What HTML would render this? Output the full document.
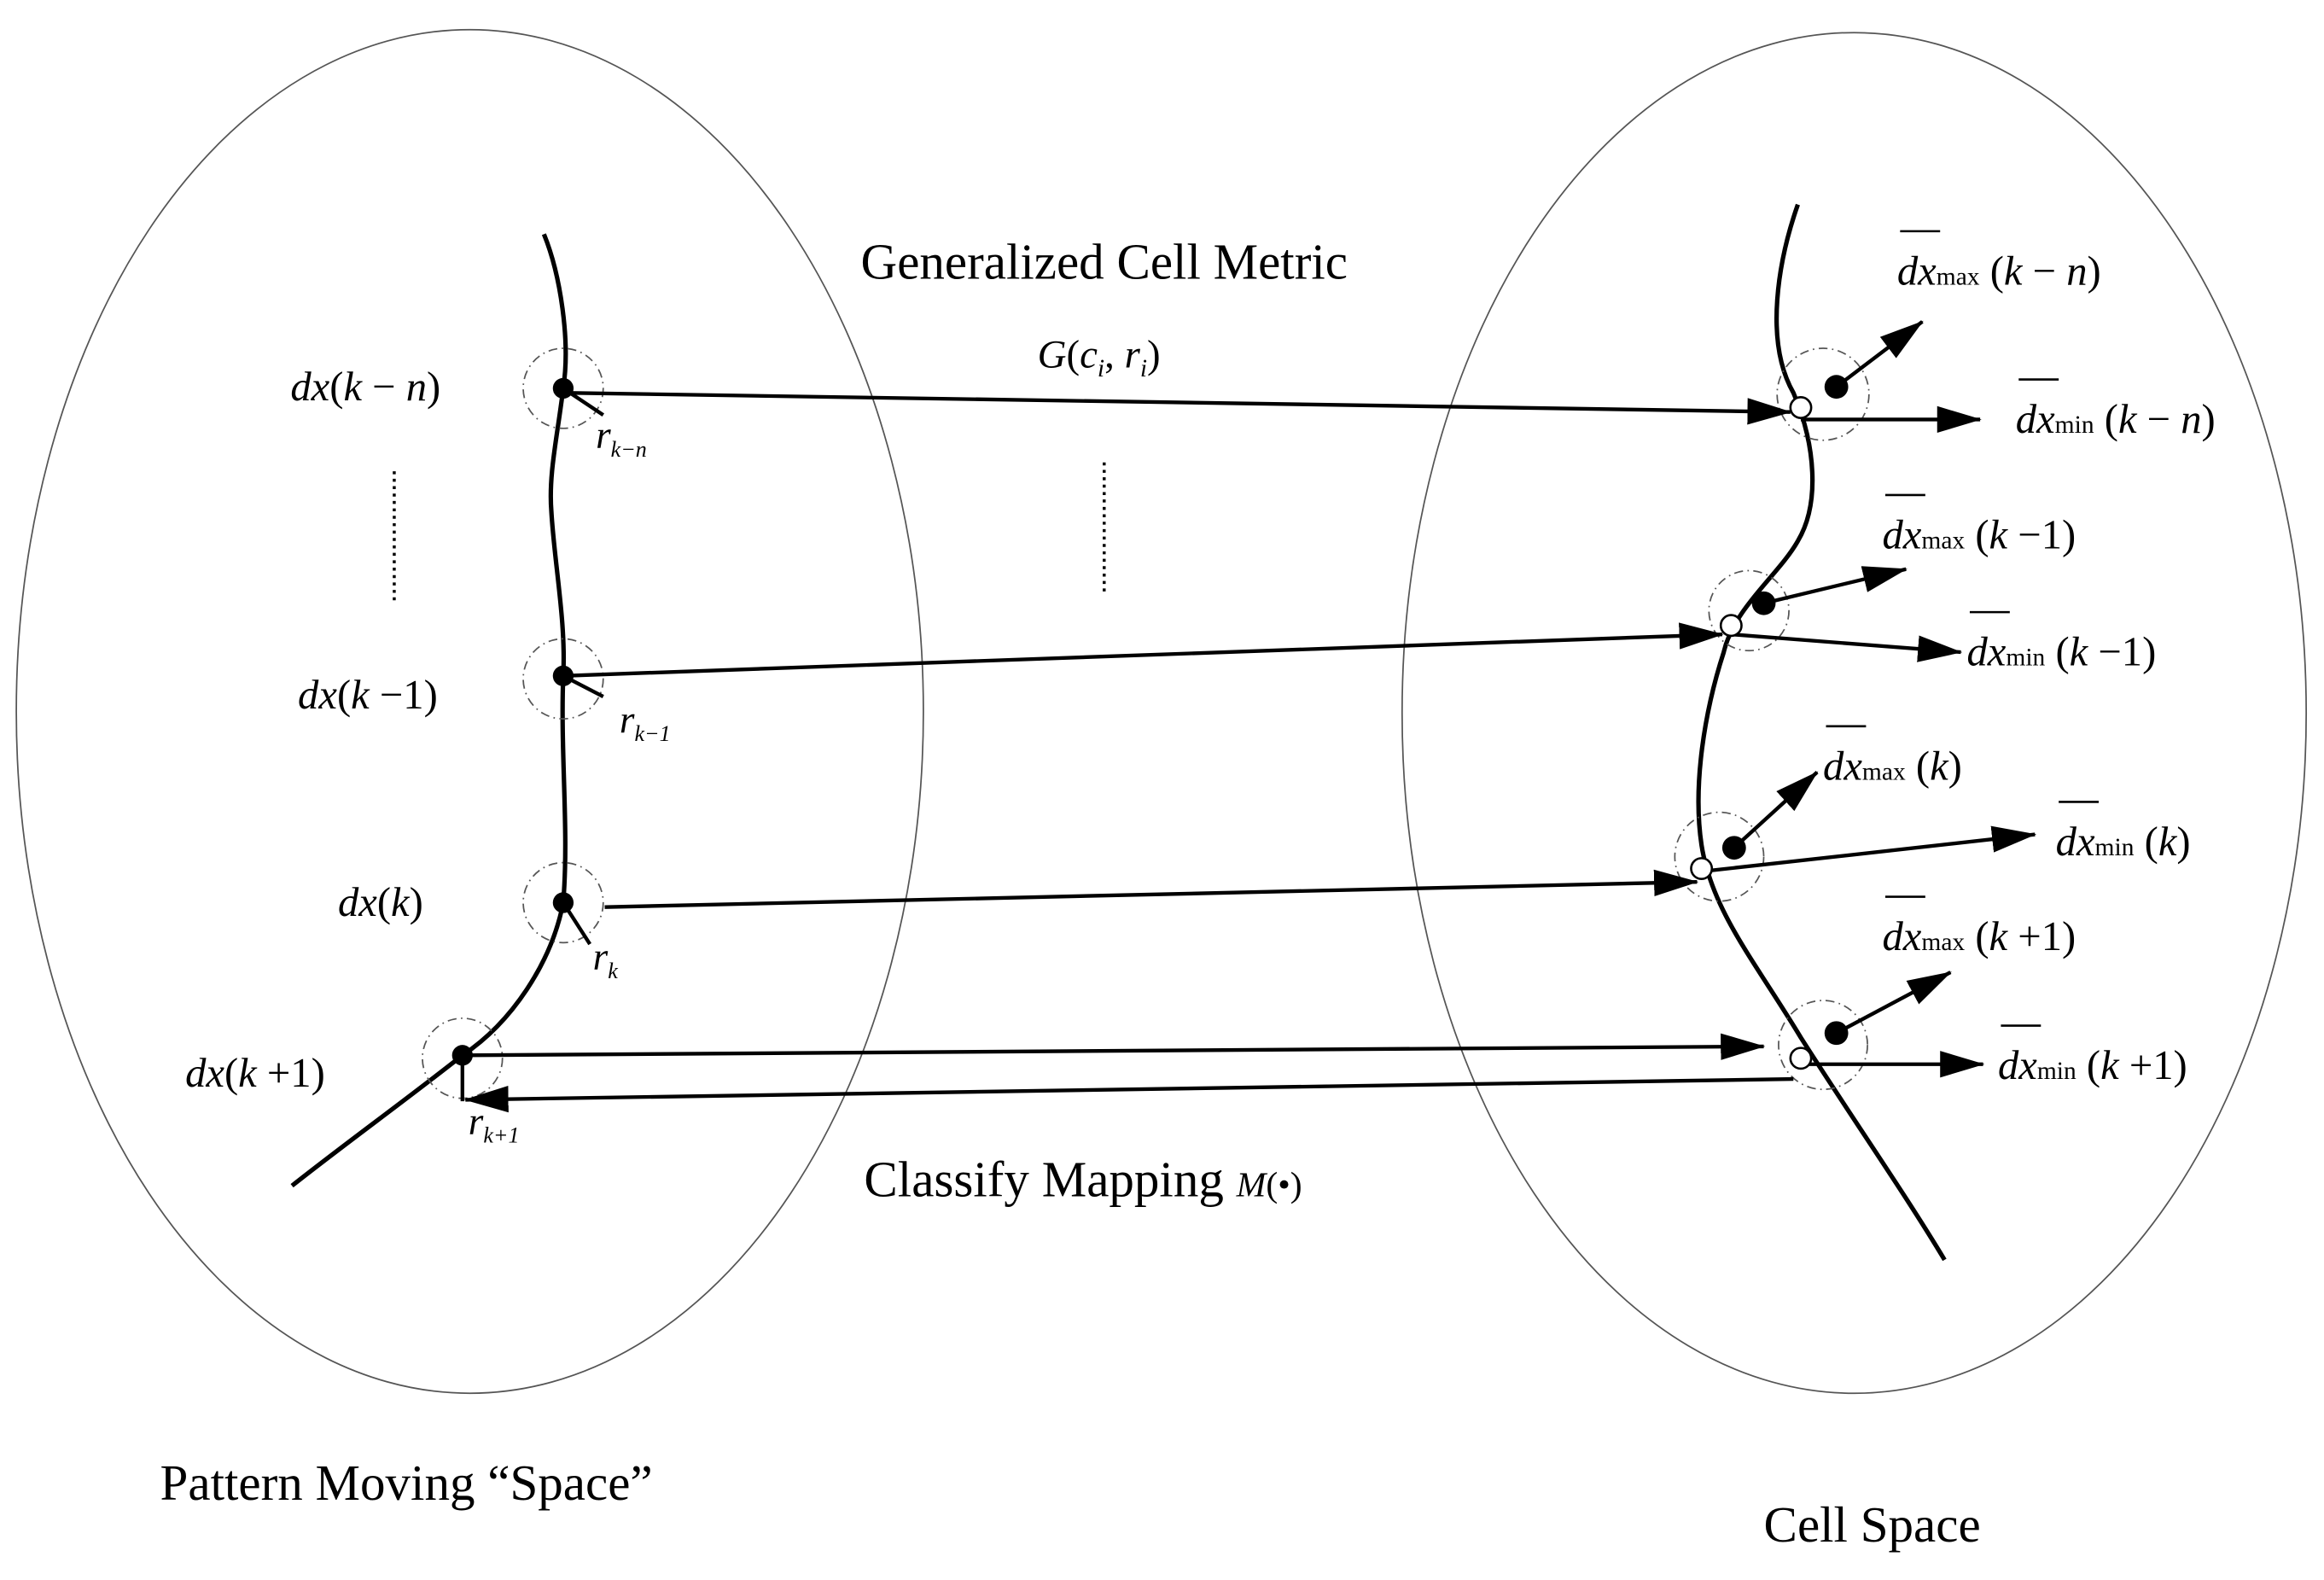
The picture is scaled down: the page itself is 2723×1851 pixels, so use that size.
<!DOCTYPE html>
<html><head><meta charset="utf-8"><style>
html,body{margin:0;padding:0;background:#fff;}
svg{display:block;}
text{font-family:"Liberation Serif",serif;fill:#000;}
.i{font-style:italic;}
</style></head><body>
<svg width="2723" height="1851" viewBox="0 0 1568 1066" preserveAspectRatio="none" xmlns="http://www.w3.org/2000/svg">
<defs>
<marker id="ah" markerWidth="10" markerHeight="8" refX="9" refY="4" orient="auto" markerUnits="userSpaceOnUse" viewBox="0 0 10 8">
</marker>
<marker id="a" viewBox="0 0 30 20" refX="29" refY="10" markerWidth="30" markerHeight="20" orient="auto" markerUnits="userSpaceOnUse"><path d="M0,1 L30,10 L0,19 Z" fill="#000"/></marker>
</defs>
<ellipse cx="317" cy="480" rx="306" ry="460" fill="none" stroke="#555" stroke-width="1"/>
<ellipse cx="1251" cy="481" rx="305" ry="459" fill="none" stroke="#555" stroke-width="1"/>

<!-- left curve -->
<path d="M367,158 C378,185 385,230 380,262 C376,295 370,320 372,345 C374,380 382,420 380,456 C378,510 384,560 380,609 C372,650 345,690 312,712 C270,745 235,770 197,800" fill="none" stroke="#000" stroke-width="3"/>
<g fill="none" stroke="#555" stroke-width="1" stroke-dasharray="6,3,1,3">
<circle cx="380" cy="262" r="27"/><circle cx="380" cy="458" r="27"/><circle cx="380" cy="609" r="27"/><circle cx="312" cy="714" r="27"/>
</g>
<g stroke="#000" stroke-width="2.5">
<line x1="380" y1="262" x2="407" y2="280"/>
<line x1="380" y1="456" x2="407" y2="470"/>
<line x1="380" y1="609" x2="398" y2="637"/>
<line x1="312" y1="712" x2="312" y2="743"/>
</g>
<g fill="#000"><circle cx="380" cy="262" r="7"/><circle cx="380" cy="456" r="7"/><circle cx="380" cy="609" r="7"/><circle cx="312" cy="712" r="7"/></g>

<!-- right curve -->
<path d="M1213,138 C1200,175 1190,230 1210,265 C1225,300 1228,340 1213,365 C1200,388 1170,410 1163,440 C1150,480 1142,530 1148,570 C1155,615 1185,650 1215,700 C1250,755 1285,805 1312,850" fill="none" stroke="#000" stroke-width="3"/>
<g fill="none" stroke="#555" stroke-width="1" stroke-dasharray="6,3,1,3">
<circle cx="1230" cy="266" r="31"/><circle cx="1180" cy="412" r="27"/><circle cx="1160" cy="578" r="30"/><circle cx="1230" cy="705" r="30"/>
</g>

<!-- arrows -->
<g stroke="#000" stroke-width="2.5" fill="none" marker-end="url(#a)">
<line x1="380" y1="265" x2="1208" y2="278"/>
<line x1="380" y1="456" x2="1162" y2="428"/>
<line x1="408" y1="612" x2="1145" y2="595"/>
<line x1="312" y1="712" x2="1190" y2="706"/>
<line x1="1210" y1="728" x2="314" y2="742"/>
<line x1="1239" y1="261" x2="1297" y2="217"/>
<line x1="1190" y1="407" x2="1286" y2="384"/>
<line x1="1170" y1="572" x2="1226" y2="521"/>
<line x1="1239" y1="697" x2="1316" y2="656"/>
<line x1="1215" y1="283" x2="1336" y2="283"/>
<line x1="1168" y1="428" x2="1323" y2="440"/>
<line x1="1148" y1="588" x2="1373" y2="563"/>
<line x1="1215" y1="718" x2="1338" y2="718"/>
</g>
<g fill="#000"><circle cx="1239" cy="261" r="8"/><circle cx="1190" cy="407" r="8"/><circle cx="1170" cy="572" r="8"/><circle cx="1239" cy="697" r="8"/></g>
<g fill="#fff" stroke="#000" stroke-width="1.5"><circle cx="1215" cy="275" r="7"/><circle cx="1168" cy="422" r="7"/><circle cx="1148" cy="586" r="7"/><circle cx="1215" cy="714" r="7"/></g>

<!-- dotted vertical -->
<line x1="266" y1="318" x2="266" y2="405" stroke="#000" stroke-width="2" stroke-dasharray="2,3"/>
<line x1="745" y1="312" x2="745" y2="400" stroke="#000" stroke-width="2" stroke-dasharray="2,3"/>

<!-- texts -->
<text x="745" y="188" font-size="34" text-anchor="middle">Generalized Cell Metric</text>
<text x="700" y="248" font-size="27"><tspan class="i">G</tspan>(<tspan class="i">c</tspan><tspan class="i" font-size="17" dy="6">i</tspan><tspan dy="-6">, </tspan><tspan class="i">r</tspan><tspan class="i" font-size="17" dy="6">i</tspan><tspan dy="-6">)</tspan></text>
<text x="583" y="807" font-size="34">Classify Mapping <tspan class="i" font-size="24">M</tspan><tspan font-size="24">(•)</tspan></text>
<text x="108" y="1012" font-size="34">Pattern Moving “Space”</text>
<text x="1190" y="1040" font-size="34">Cell Space</text>

<g font-size="28">
<text x="196" y="270"><tspan class="i">dx</tspan>(<tspan class="i">k</tspan> − <tspan class="i">n</tspan>)</text>
<text x="201" y="478"><tspan class="i">dx</tspan>(<tspan class="i">k</tspan> −1)</text>
<text x="228" y="618"><tspan class="i">dx</tspan>(<tspan class="i">k</tspan>)</text>
<text x="125" y="733"><tspan class="i">dx</tspan>(<tspan class="i">k</tspan> +1)</text>
</g>
<g font-size="26">
<text x="402" y="302" class="i">r<tspan font-size="15" dy="6">k−n</tspan></text>
<text x="418" y="494" class="i">r<tspan font-size="15" dy="6">k−1</tspan></text>
<text x="400" y="654" class="i">r<tspan font-size="15" dy="6">k</tspan></text>
<text x="316" y="765" class="i">r<tspan font-size="15" dy="6">k+1</tspan></text>
</g>

<g font-size="28">
<text x="1280" y="192"><tspan class="i">dx</tspan><tspan font-size="17">max</tspan> (<tspan class="i">k</tspan> − <tspan class="i">n</tspan>)</text>
<text x="1360" y="292"><tspan class="i">dx</tspan><tspan font-size="17">min</tspan> (<tspan class="i">k</tspan> − <tspan class="i">n</tspan>)</text>
<text x="1270" y="370"><tspan class="i">dx</tspan><tspan font-size="17">max</tspan> (<tspan class="i">k</tspan> −1)</text>
<text x="1327" y="449"><tspan class="i">dx</tspan><tspan font-size="17">min</tspan> (<tspan class="i">k</tspan> −1)</text>
<text x="1230" y="526"><tspan class="i">dx</tspan><tspan font-size="17">max</tspan> (<tspan class="i">k</tspan>)</text>
<text x="1387" y="577"><tspan class="i">dx</tspan><tspan font-size="17">min</tspan> (<tspan class="i">k</tspan>)</text>
<text x="1270" y="641"><tspan class="i">dx</tspan><tspan font-size="17">max</tspan> (<tspan class="i">k</tspan> +1)</text>
<text x="1348" y="728"><tspan class="i">dx</tspan><tspan font-size="17">min</tspan> (<tspan class="i">k</tspan> +1)</text>
</g>
<g stroke="#000" stroke-width="1.5">
<line x1="1282" y1="156" x2="1309" y2="156"/>
<line x1="1362" y1="256" x2="1389" y2="256"/>
<line x1="1272" y1="334" x2="1299" y2="334"/>
<line x1="1329" y1="413" x2="1356" y2="413"/>
<line x1="1232" y1="490" x2="1259" y2="490"/>
<line x1="1389" y1="541" x2="1416" y2="541"/>
<line x1="1272" y1="605" x2="1299" y2="605"/>
<line x1="1350" y1="692" x2="1377" y2="692"/>
</g>
</svg>
</body></html>
